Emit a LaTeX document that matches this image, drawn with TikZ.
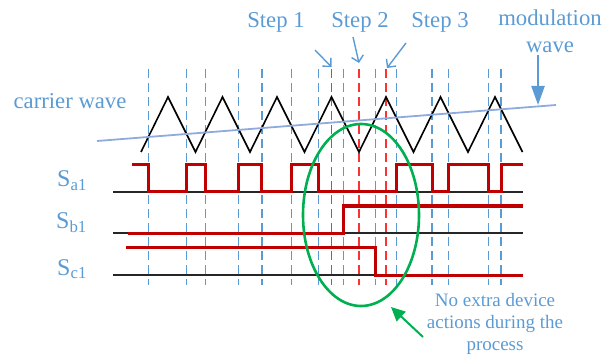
\documentclass[tikz,border=0pt]{standalone}
\usepackage{fontspec}
\setmainfont{Liberation Serif}
\usetikzlibrary{calc, positioning}
\usetikzlibrary{arrows.meta}

\definecolor{txtblue}{RGB}{91,155,213}
\definecolor{modblue}{RGB}{143,170,220}
\definecolor{sigred}{RGB}{192,0,0}
\definecolor{stepred}{RGB}{250,50,50}
\definecolor{ringgreen}{RGB}{0,176,80}

\tikzset{
  lbl/.style={text=txtblue, font=\fontsize{22.7}{27}\selectfont, inner sep=0pt},
  siglbl/.style={text=txtblue, font=\fontsize{24}{28}\selectfont, inner sep=0pt},
  notelbl/.style={text=txtblue, font=\fontsize{19}{22}\selectfont, inner sep=0pt, align=center},
  tick/.style={txtblue, line width=1.3pt, dash pattern=on 9pt off 5pt},
  steptick/.style={stepred, line width=1.5pt, dash pattern=on 9pt off 5pt},
  base/.style={black!85, line width=1.6pt},
  sig/.style={sigred, line width=3pt},
  steparrow/.style={txtblue, line width=1.4pt, -{Straight Barb[length=6pt, width=12pt]}}
}

\begin{document}
\begin{tikzpicture}[x=1pt, y=-1pt]
\useasboundingbox (0,0) rectangle (610,358);
\def\per{54.5}

\coordinate (top) at (0,69);
\coordinate (bot) at (0,285);
\coordinate (aH) at (0,165);
\coordinate (aL) at (0,192);
\coordinate (bH) at (0,206);
\coordinate (bL) at (0,233);
\coordinate (cH) at (0,247);
\coordinate (cL) at (0,275);

\foreach \x [count=\n] in {148.5,186.3,205.2,238.8,261.9,291.3,318.6,343.7,375.3,396.2,432.0,448.6,488.7,501.1}
  \coordinate (i-\n) at (\x,0);

\foreach \n in {1,...,14}
  \draw[tick] (i-\n |- top) -- (i-\n |- bot);
\foreach \x in {331.5,359,386}
  \draw[steptick] (\x,69) -- (\x,285);

\draw[base] (113,192) -- (523,192);
\draw[base] (113,233) -- (523,233);
\draw[base] (113,275) -- (523,275);

\draw[sig] (132,165) -| (i-1 |- aL) -| (i-2 |- aH) -| (i-3 |- aL) -| (i-4 |- aH)
  -| (i-5 |- aL) -| (i-6 |- aH) -| (i-7 |- aL) -| (i-10 |- aH) -| (i-11 |- aL)
  -| (i-12 |- aH) -| (i-13 |- aL) -| (i-14 |- aH) -- (523,165);
\draw[sig] (128,233) -| (i-8 |- bH) -- (523,206);
\draw[sig] (126,247) -| (i-9 |- cL) -- (523,275);

\draw[black, line width=1.6pt] (141,152)
  \foreach \k in {0,...,6} { -- ({168+\per*\k},97) -- ({195.5+\per*\k},152) };
\draw[modblue, line width=1.8pt] (97,141) -- (556,105);

\draw[ringgreen, line width=2.6pt] (361,215) ellipse [x radius=58pt, y radius=91pt];

\node[lbl, anchor=base] (carrier) at (70,109) {carrier wave};
\node[lbl, anchor=base] (step1) at (276,28) {Step 1};
\node[lbl, anchor=base] (step2) at (360,28) {Step 2};
\node[lbl, anchor=base] (step3) at (440,28) {Step 3};
\node[lbl, align=center, anchor=south] (modwave) at (550,53) {modulation\\wave};

\node[siglbl, anchor=base west] (sa) at (57,187) {S\textsubscript{a1}};
\node[siglbl, anchor=base west] (sb) at (56,229) {S\textsubscript{b1}};
\node[siglbl, anchor=base west] (sc) at (57,275) {S\textsubscript{c1}};

\node[notelbl, anchor=north] (note) at (495,293) {No extra device\\actions during the\\process};

\coordinate (s1a) at (315,50);
\coordinate (s1b) at (331.5,67);
\coordinate (s2a) at (353,37);
\coordinate (s2b) at (359,63);
\coordinate (s3a) at (406,43);
\coordinate (s3b) at (387,68);
\draw[steparrow] (s1a) -- (s1b);
\draw[steparrow] (s2a) -- (s2b);
\draw[steparrow] (s3a) -- (s3b);

\coordinate (moda) at (538,55);
\coordinate (modb) at (538,105);
\draw[txtblue, line width=2.4pt, -{Triangle[length=19pt, width=13pt]}] (moda) -- (modb);

\coordinate (nta) at (423,337);
\coordinate (ntb) at (391,307);
\draw[ringgreen, line width=2pt, -{Triangle[length=14pt, width=13pt]}] (nta) -- (ntb);
\end{tikzpicture}
\end{document}
